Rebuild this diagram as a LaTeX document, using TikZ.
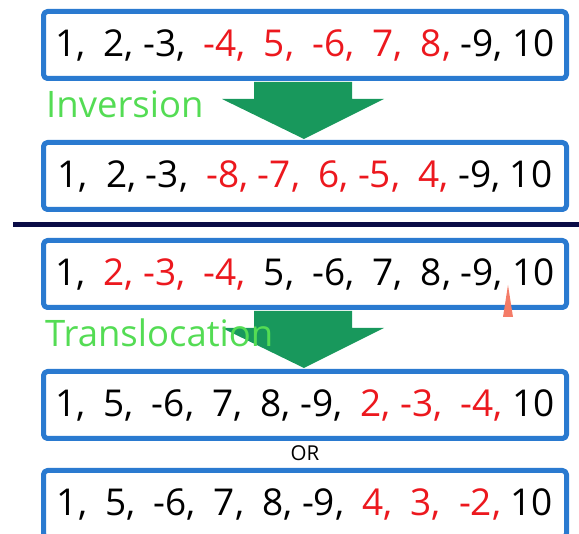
\documentclass[tikz,border=0pt]{standalone}
\usepackage{fontspec}
\setmainfont{Open Sans}
\usetikzlibrary{calc}
\definecolor{boxblue}{RGB}{42,122,208}
\definecolor{markred}{RGB}{236,24,30}
\definecolor{labelgreen}{RGB}{84,220,84}
\definecolor{flowgreen}{RGB}{24,152,92}
\definecolor{rulenavy}{RGB}{10,12,70}
\definecolor{cutsalmon}{RGB}{244,124,104}
\newcommand{\w}{\hspace{0.49em}}
\newcommand{\hl}[1]{\textcolor{markred}{#1}}
\newcommand{\blockarrow}[2]{%
  \fill[flowgreen] ($(#1.south)+(-51,1)$) -- ($(#1.south)+(47,1)$) -- ($(#1.south)+(47,18)$)
    -- ($(#1.south)+(79,18)$) -- ($(#2.north)+(-1,-1)$) -- ($(#1.south)+(-83,18)$)
    -- ($(#1.south)+(-51,18)$) -- cycle;}
\begin{document}
\begin{tikzpicture}[x=1pt,y=-1pt,line join=round,
    genome/.style={draw=boxblue,line width=5pt,rounded corners=4pt,minimum width=523pt,minimum height=67pt,
      inner sep=0pt,font=\fontsize{37}{40}\selectfont},
    event/.style={anchor=base west,inner sep=0pt,text=labelgreen,font=\fontsize{36.5}{40}\selectfont}]
  \useasboundingbox (0,0) rectangle (579,534);
  \node[genome] (inv-before) at (305,45) {1,\w 2, -3,\w \hl{-4,\w 5,\w -6,\w 7,\w 8,} -9, 10};
  \node[genome] (inv-after) at (305,176) {1,\w 2, -3,\w \hl{-8, -7,\w 6, -5,\w 4,} -9, 10};
  \draw[rulenavy,line width=4.5pt] (13,224.5) -- (579,224.5);
  \node[genome] (tra-before) at (305,274) {1,\w \hl{2, -3,\w -4,}\w 5,\w -6,\w 7,\w 8, -9, 10};
  \node[genome] (tra-after) at (305,405) {1,\w 5,\w -6,\w 7,\w 8, -9,\w \hl{2, -3,\w -4,} 10};
  \node[font=\fontsize{20.5}{22}\selectfont] (or) at (305,453.5) {OR};
  \node[genome] (tra-alt) at (305,504) {1,\w 5,\w -6,\w 7,\w 8, -9,\w \hl{4,\w 3,\w -2,} 10};
  \blockarrow{inv-before}{inv-after}
  \blockarrow{tra-before}{tra-after}
  \fill[cutsalmon] (503,317) -- (513,317) -- (508,285) -- cycle;
  \node[event] (inv-label) at (46,118) {Inversion};
  \node[event] (tra-label) at (45,347) {Translocation};
\end{tikzpicture}
\end{document}
